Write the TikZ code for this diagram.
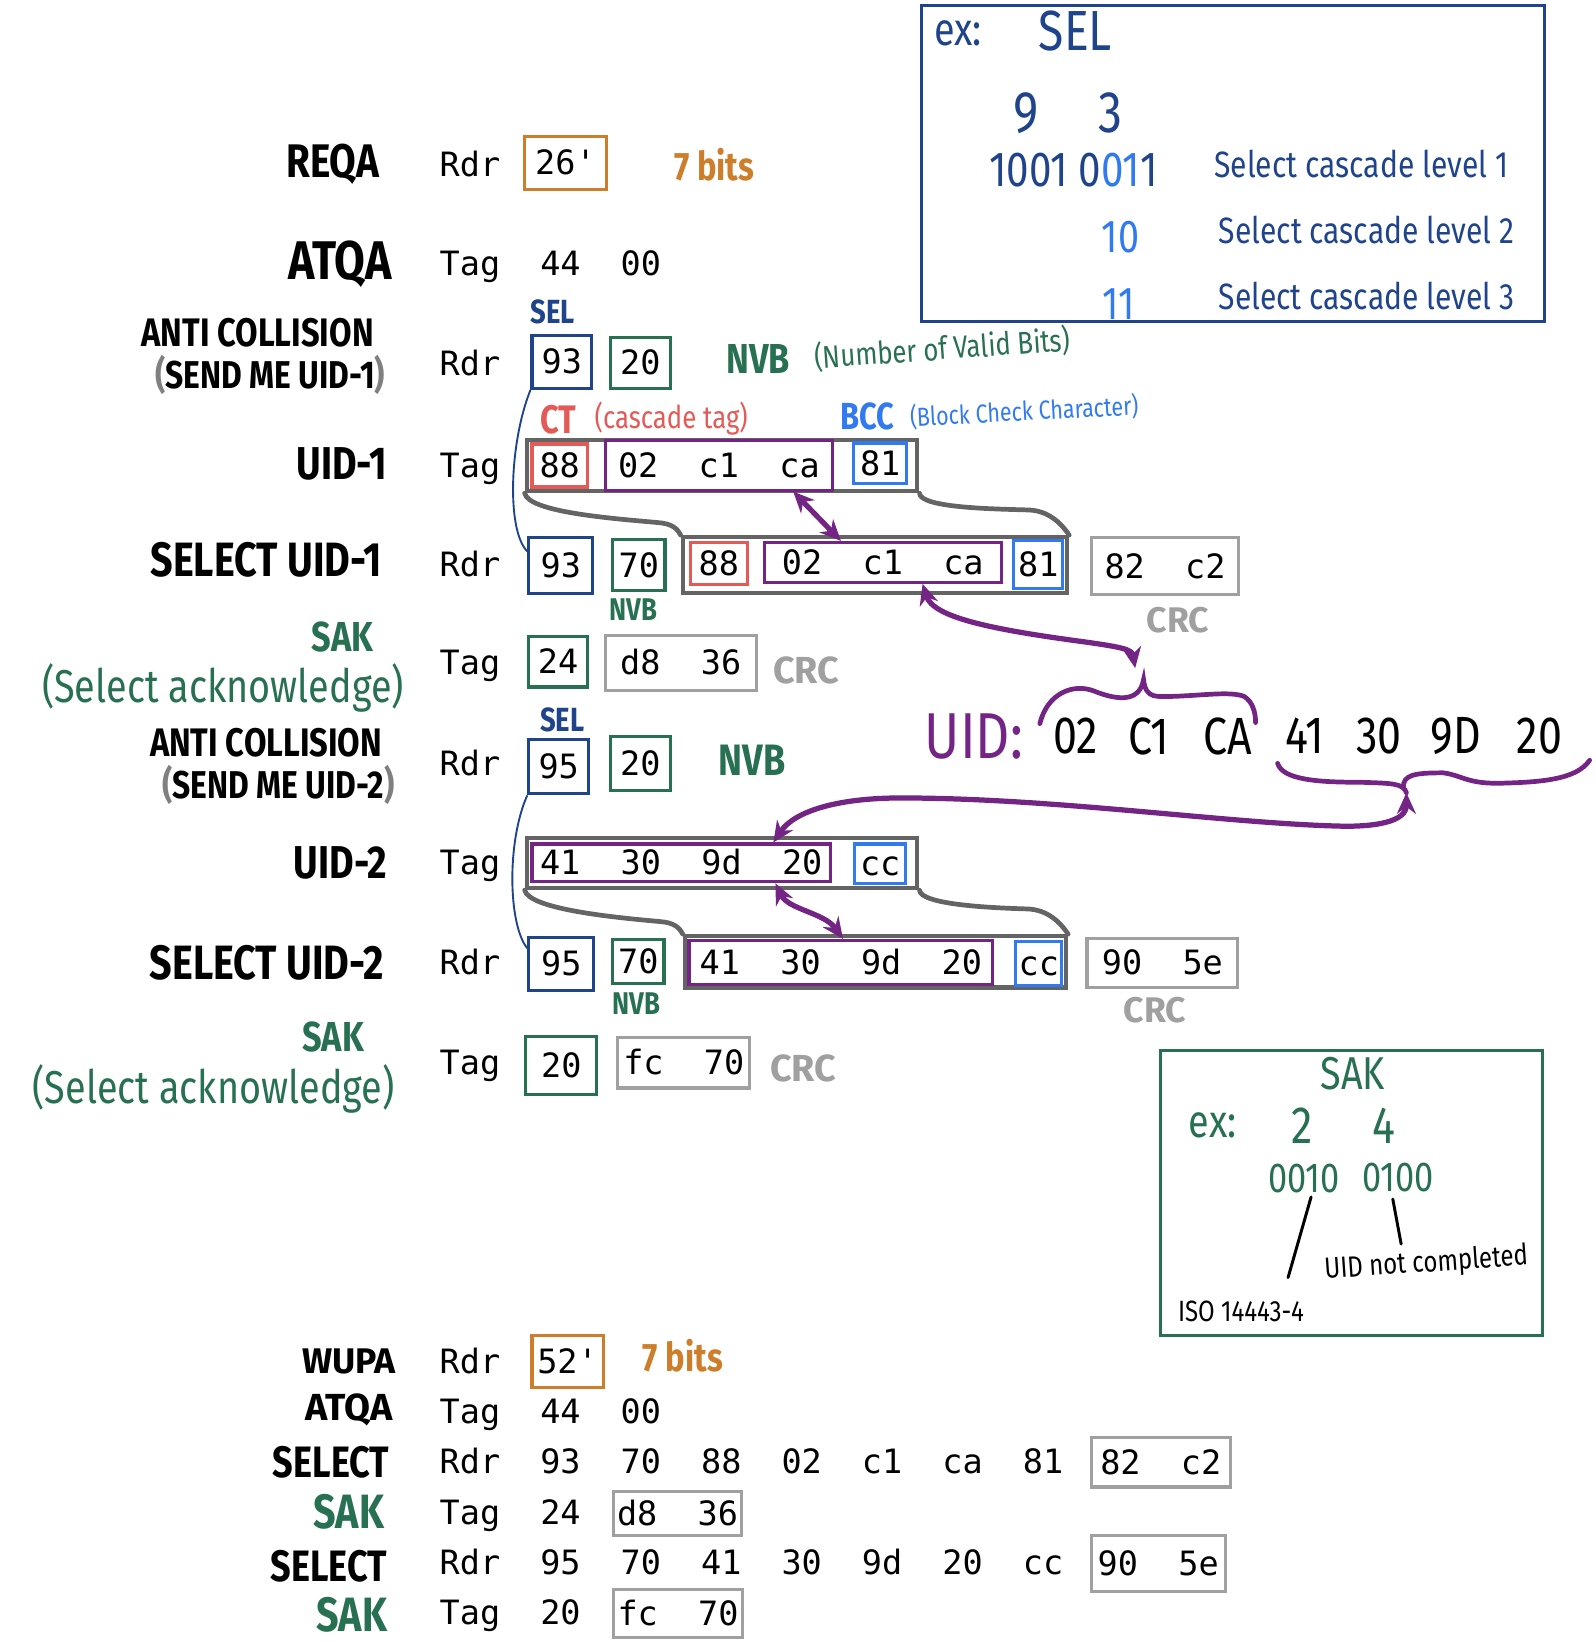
\documentclass[tikz,border=0pt]{standalone}
\usepackage{fontspec}
\setmonofont{DejaVu Sans Mono}
\newfontfamily\hand[FakeStretch=0.82]{Fira Sans}
\newfontfamily\handw{Fira Sans}
\usetikzlibrary{arrows.meta,calc}
\definecolor{cnavy}{RGB}{31,68,140}
\definecolor{cblue}{RGB}{50,122,240}
\definecolor{cgreen}{RGB}{40,112,82}
\definecolor{cred}{RGB}{228,90,86}
\definecolor{corange}{RGB}{206,126,42}
\definecolor{cpurple}{RGB}{116,36,132}
\definecolor{clgray}{RGB}{160,160,160}
\definecolor{cdgray}{RGB}{100,100,100}
\newcommand\hsz[1]{\fontsize{#1}{#1}\selectfont}
\newcommand\bgap{\hspace*{38.5pt}}
\begin{document}
\begin{tikzpicture}[x=1pt,y=-1pt,
 mono/.style={font=\ttfamily\hsz{32}, inner sep=0pt, text height=23pt, text depth=0pt},
 bbox/.style={mono, draw, line width=3pt},
 outer/.style={draw=cdgray, line width=4pt, inner sep=0pt},
 hw/.style={font=\hand\bfseries\hsz{#1}, inner sep=0pt},
 hww/.style={font=\handw\bfseries\hsz{#1}, inner sep=0pt},
 hr/.style={font=\hand\hsz{#1}, inner sep=0pt},
 lab/.style={anchor=east},
 parr/.style={draw=cpurple, line width=5pt, line cap=round, >={Stealth[length=20pt,width=18pt]}},
 pline/.style={draw=cpurple, line width=4.5pt, line cap=round},
 gconn/.style={draw=cdgray, line width=4.5pt, line cap=round},
 bconn/.style={draw=cnavy, line width=1.8pt},
 kline/.style={draw=black, line width=2.8pt, line cap=round}]
\useasboundingbox (0,0) rectangle (1524,1568);

% ---------- info box SEL ----------
\node[draw=cnavy, line width=3pt, minimum width=595pt, minimum height=302pt, inner sep=0pt] (selbox) at (1177.5,156) {};
\node[hr=44, text=cnavy] (selex) at (915,32) {ex:};
\node[hr=54, text=cnavy] (selsel) at (1027,30) {SEL};
\node[hr=56, text=cnavy] (sel9) at (980,108) {9};
\node[hr=56, text=cnavy] (sel3) at (1060,108) {3};
\node[hr=47, text=cnavy] (selbits) at (1025,162) {1001 0\textcolor{cblue}{01}1};
\node[hr=35, text=cnavy] (lvl1) at (1300,157) {Select cascade level 1};
\node[hr=44, text=cblue] (sel10) at (1070,226) {10};
\node[hr=35, text=cnavy] (lvl2) at (1305,220) {Select cascade level 2};
\node[hr=44, text=cblue] (sel11) at (1068,290) {11};
\node[hr=35, text=cnavy] (lvl3) at (1305,283) {Select cascade level 3};

% ---------- info box SAK ----------
\node[draw=cgreen, line width=3pt, minimum width=365pt, minimum height=272pt, inner sep=0pt] (sakbox) at (1290.5,1139) {};
\node[hr=44, text=cgreen] (saktitle) at (1292,1025) {SAK};
\node[hr=44, text=cgreen] (sakex) at (1158,1075) {ex:};
\node[hr=50, text=cgreen] (sak2) at (1243,1075) {2};
\node[hr=50, text=cgreen] (sak4) at (1322,1075) {4};
\node[hr=40, text=cgreen] (sak0010) at (1245,1125) {0010};
\node[hr=40, text=cgreen] (sak0100) at (1335,1124) {0100};
\node[hr=28, rotate=4] (uidnc) at (1362,1207) {UID not completed};
\node[hr=28] (iso) at (1185,1252) {ISO 14443-4};
\coordinate (k1a) at (1252,1143);
\coordinate (k1b) at (1230,1220);
\coordinate (k2a) at (1330,1145);
\coordinate (k2b) at (1338,1188);
\draw[kline] (k1a) -- (k1b);
\draw[kline] (k2a) -- (k2b);

% ---------- REQA ----------
\node[hw=45, lab] (lreqa) at (362,157) {REQA};
\node[mono] (r1) at (448.8,157) {Rdr};
\node[bbox, draw=corange, minimum width=78pt, minimum height=51pt] (b26) at (540,155.5) {26\char"27};
\node[hw=38, text=corange] (bits1) at (682,157) {7 bits};

% ---------- ATQA ----------
\node[hw=52, lab] (latqa) at (374,252) {ATQA};
\node[mono] (r2) at (448.8,252) {Tag};
\node[mono] (a44) at (535.2,252) {44};
\node[mono] (a00) at (612,252) {00};

% ---------- ANTI COLLISION 1 ----------
\node[hw=32, text=cnavy] (sel1) at (528,298) {SEL};
\node[hw=38, lab] (lanti1) at (357,318) {ANTI COLLISION};
\node[hw=37, lab] (lsend1) at (368,358) {\textcolor{gray}{(}SEND ME UID-1\textcolor{gray}{)}};
\node[mono] (r3) at (448.8,347) {Rdr};
\node[bbox, draw=cnavy, minimum width=57pt, minimum height=51pt] (a93) at (536.5,345.5) {93};
\node[bbox, draw=cgreen, minimum width=57pt, minimum height=49pt] (a20) at (611.5,346.5) {20};
\node[hw=40, text=cgreen] (nvb1) at (724,343) {NVB};
\node[hr=30, text=cgreen, rotate=4] (nvbtxt) at (900,333) {(Number of Valid Bits)};

% ---------- UID-1 ----------
\node[hw=38, text=cred] (ct) at (533,401) {CT};
\node[hr=30, text=cred] (cttxt) at (641,400) {(cascade tag)};
\node[hw=36, text=cblue] (bcc) at (828,398) {BCC};
\node[hr=25, text=cblue, rotate=3] (bcctxt) at (978,393) {(Block Check Character)};
\node[hw=44, lab] (luid1) at (370,443) {UID-1};
\node[mono] (r4) at (448.8,444) {Tag};
\node[outer, minimum width=373pt, minimum height=49pt] (o1) at (689.5,444.5) {};
\node[bbox, draw=cred, minimum width=53pt, minimum height=41pt] (u88) at (534.5,444.5) {88};
\node[bbox, draw=cpurple, minimum width=217pt, minimum height=47pt] (p1) at (686.5,444.5) {02\bgap c1\bgap ca};
\node[bbox, draw=cblue, minimum width=51pt, minimum height=39pt] (u81) at (840.5,442.5) {81};

% ---------- SELECT UID-1 ----------
\node[hw=46, lab] (lsel1) at (365,535) {SELECT UID-1};
\node[mono] (r5) at (448.8,539) {Rdr};
\node[bbox, draw=cnavy, minimum width=61pt, minimum height=54pt] (s93) at (535.5,540) {93};
\node[bbox, draw=cgreen, minimum width=50pt, minimum height=49pt] (s70) at (610,539.5) {70};
\node[hw=30, text=cgreen] (nvbs1) at (605,582) {NVB};
\node[outer, minimum width=367pt, minimum height=53pt] (o2) at (835.5,539.5) {};
\node[bbox, draw=cred, minimum width=55pt, minimum height=40pt] (s88) at (686.5,538) {88};
\node[bbox, draw=cpurple, minimum width=226pt, minimum height=38pt] (p2) at (843,537) {02\bgap c1\bgap ca};
\node[bbox, draw=cblue, minimum width=47pt, minimum height=46pt] (s81) at (991.5,539) {81};
\node[bbox, draw=clgray, minimum width=141pt, minimum height=55pt] (crc1) at (1112.5,540.5) {82\bgap c2};
\node[hww=34, text=clgray] (lcrc1) at (1125,592) {CRC};

% ---------- SAK 1 ----------
\node[hw=40, text=cgreen] (lsak1) at (327,608) {SAK};
\node[hr=44, text=cgreen] (lsakt1) at (213,657) {(Select acknowledge)};
\node[mono] (r6) at (448.8,633) {Tag};
\node[bbox, draw=cgreen, minimum width=56pt, minimum height=48pt] (k24) at (533,632) {24};
\node[bbox, draw=clgray, minimum width=144pt, minimum height=52pt] (crc2) at (650,633) {d8\bgap 36};
\node[hww=36, text=clgray] (lcrc2) at (770,640) {CRC};

% ---------- ANTI COLLISION 2 ----------
\node[hw=32, text=cnavy] (sel2) at (537,687) {SEL};
\node[hw=38, lab] (lanti2) at (365,709) {ANTI COLLISION};
\node[hw=37, lab] (lsend2) at (377,750) {\textcolor{gray}{(}SEND ME UID-2\textcolor{gray}{)}};
\node[mono] (r7) at (448.8,729) {Rdr};
\node[bbox, draw=cnavy, minimum width=57pt, minimum height=52pt] (a95) at (533.5,732) {95};
\node[bbox, draw=cgreen, minimum width=57pt, minimum height=52pt] (a20b) at (611.5,729) {20};
\node[hw=42, text=cgreen] (nvb2) at (718,726) {NVB};

% ---------- UID line ----------
\node[hr=62, text=cpurple] (uidl) at (930,703) {UID:};
\node[hr=50] (v1) at (1027,703) {02};
\node[hr=50] (v2) at (1097,703) {C1};
\node[hr=50] (v3) at (1172,703) {CA};
\node[hr=50] (v4) at (1246,703) {41};
\node[hr=50] (v5) at (1317,703) {30};
\node[hr=50] (v6) at (1390,703) {9D};
\node[hr=50] (v7) at (1470,703) {20};
\coordinate (btop) at (1092,649);
\coordinate (bbot) at (1343,757);
\draw[pline] (993,691) .. controls (1000,662) and (1025,652) .. (1045,660) .. controls (1065,668) and (1088,672) .. (btop) .. controls (1094,668) and (1105,665) .. (1120,665) .. controls (1150,664) and (1175,660) .. (1188,665) .. controls (1196,670) and (1199,680) .. (1199,690);
\draw[pline] (1220,729) .. controls (1225,745) and (1260,747) .. (1299,747) .. controls (1330,748) and (1340,748) .. (bbot);
\draw[pline] (1340,752) .. controls (1340,740) and (1350,738) .. (1378,738) .. controls (1395,740) and (1400,748) .. (1430,748) .. controls (1470,747) and (1505,745) .. (1518,726);

% ---------- UID-2 ----------
\node[hw=44, lab] (luid2) at (370,824) {UID-2};
\node[mono] (r8) at (448.8,824) {Tag};
\node[outer, minimum width=373pt, minimum height=48pt] (o3) at (689.5,824) {};
\node[bbox, draw=cpurple, minimum width=285pt, minimum height=36pt] (p3) at (650.5,824) {41\bgap 30\bgap 9d\bgap 20};
\node[bbox, draw=cblue, minimum width=49pt, minimum height=38pt] (ucc) at (840.5,825) {cc};

% ---------- SELECT UID-2 ----------
\node[hw=46, lab] (lsel2) at (367,919) {SELECT UID-2};
\node[mono] (r9) at (448.8,919) {Rdr};
\node[bbox, draw=cnavy, minimum width=62pt, minimum height=51pt] (s95) at (536,920.5) {95};
\node[bbox, draw=cgreen, minimum width=49pt, minimum height=42pt] (s70b) at (609.5,918) {70};
\node[hw=30, text=cgreen] (nvbs2) at (608,958) {NVB};
\node[outer, minimum width=364pt, minimum height=49pt] (o4) at (836,918.5) {};
\node[bbox, draw=cpurple, minimum width=290pt, minimum height=42pt] (p4) at (803,919) {41\bgap 30\bgap 9d\bgap 20};
\node[bbox, draw=cblue, minimum width=44pt, minimum height=42pt] (scc) at (992,920) {cc};
\node[bbox, draw=clgray, minimum width=144pt, minimum height=47pt] (crc3) at (1110,919.5) {90\bgap 5e};
\node[hww=34, text=clgray] (lcrc3) at (1103,965) {CRC};

% ---------- SAK 2 ----------
\node[hw=40, text=cgreen] (lsak2) at (318,990) {SAK};
\node[hr=44, text=cgreen] (lsakt2) at (204,1040) {(Select acknowledge)};
\node[mono] (r10) at (448.8,1015) {Tag};
\node[bbox, draw=cgreen, minimum width=68pt, minimum height=55pt] (k20) at (536,1017.5) {20};
\node[bbox, draw=clgray, minimum width=126pt, minimum height=48pt] (crc4) at (653,1015) {fc\bgap 70};
\node[hww=36, text=clgray] (lcrc4) at (767,1020) {CRC};

% ---------- connectors ----------
\draw[gconn] (o1.south west) .. controls +(4,18) and +(-45,-4) .. ($(o2.north west)+(-22,-12)$) .. controls +(14,1) and +(-3,-6) .. (o2.north west);
\draw[gconn] (o1.south east) .. controls +(1,14) and +(-35,-1) .. ($(o2.north east)+(-38,-24)$) .. controls +(18,1) and +(-8,-12) .. (o2.north east);
\draw[gconn] (o3.south west) .. controls +(4,18) and +(-45,-4) .. ($(o4.north west)+(-22,-12)$) .. controls +(14,1) and +(-3,-6) .. (o4.north west);
\draw[gconn] (o3.south east) .. controls +(1,14) and +(-35,-1) .. ($(o4.north east)+(-38,-24)$) .. controls +(18,1) and +(-8,-12) .. (o4.north east);
\draw[bconn] (a93.south west) .. controls +(-20,50) and +(-20,-20) .. ($(s93.north west)+(0,15)$);
\draw[bconn] (a95.south west) .. controls +(-20,45) and +(-18,-22) .. ($(s95.north west)+(0,12)$);

\draw[parr,<->] ($(p1.south)+(71,0)$) -- ($(p2.north)+(-40,0)$);
\draw[parr,<->] ($(p2.south)+(38,0)$) .. controls +(10,32) and +(-90,-12) .. (1036,613) .. controls +(35,5) and +(-3,-18) .. ($(btop)+(-8,-11)$);
\draw[parr,<->] ($(p3.north)+(88,0)$) .. controls +(20,-30) and +(-60,0) .. (860,762) .. controls +(150,0) and +(-110,-2) .. (1285,789) .. controls +(45,0) and +(0,22) .. (bbot);
\draw[parr,<->] ($(p3.south)+(90,0)$) .. controls +(12,25) and +(-18,-25) .. ($(p4.north)+(2,0)$);

% ---------- summary ----------
\node[hww=34, lab] (lwupa) at (378,1300) {WUPA};
\node[mono] (t1) at (448.8,1300) {Rdr};
\node[bbox, draw=corange, minimum width=68pt, minimum height=50pt] (b52) at (542,1300) {52\char"27};
\node[hw=38, text=corange] (bits2) at (652,1295) {7 bits};

\node[hww=36, lab] (latqa2) at (375,1346) {ATQA};
\node[mono] (t2) at (448.8,1348) {Tag};
\node[mono] (t2a) at (535.2,1348) {44};
\node[mono] (t2b) at (612,1348) {00};

\node[hw=42, lab] (lselb1) at (372,1396) {SELECT};
\node[mono] (t3) at (448.8,1396) {Rdr};
\node[mono] (t3a) at (535.2,1396) {93};
\node[mono] (t3b) at (612,1396) {70};
\node[mono] (t3c) at (688.8,1396) {88};
\node[mono] (t3d) at (765.6,1396) {02};
\node[mono] (t3e) at (842.4,1396) {c1};
\node[mono] (t3f) at (919.2,1396) {ca};
\node[mono] (t3g) at (996,1396) {81};
\node[bbox, draw=clgray, minimum width=133pt, minimum height=47pt] (crcb1) at (1108.5,1396.5) {82\bgap c2};

\node[hw=46, lab, text=cgreen] (lsakb1) at (367,1444) {SAK};
\node[mono] (t4) at (448.8,1444) {Tag};
\node[mono] (t4a) at (535.2,1444) {24};
\node[bbox, draw=clgray, minimum width=122pt, minimum height=42pt] (crcb2) at (647,1445) {d8\bgap 36};

\node[hw=42, lab] (lselb2) at (370,1496) {SELECT};
\node[mono] (t5) at (448.8,1492) {Rdr};
\node[mono] (t5a) at (535.2,1492) {95};
\node[mono] (t5b) at (612,1492) {70};
\node[mono] (t5c) at (688.8,1492) {41};
\node[mono] (t5d) at (765.6,1492) {30};
\node[mono] (t5e) at (842.4,1492) {9d};
\node[mono] (t5f) at (919.2,1492) {20};
\node[mono] (t5g) at (996,1492) {cc};
\node[bbox, draw=clgray, minimum width=128pt, minimum height=54pt] (crcb3) at (1106,1493) {90\bgap 5e};

\node[hw=46, lab, text=cgreen] (lsakb2) at (370,1542) {SAK};
\node[mono] (t6) at (448.8,1540) {Tag};
\node[mono] (t6a) at (535.2,1540) {20};
\node[bbox, draw=clgray, minimum width=123pt, minimum height=46pt] (crcb4) at (647.5,1541) {fc\bgap 70};
\end{tikzpicture}
\end{document}
